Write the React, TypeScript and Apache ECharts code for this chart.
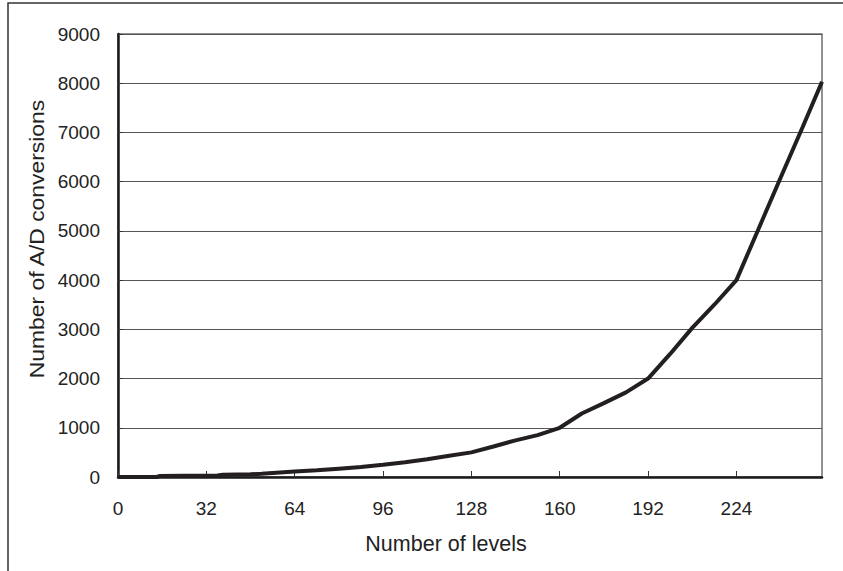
import React, { useEffect, useRef } from "react";
import * as echarts from "echarts";

const levels = [0, 8, 14, 15, 24, 36, 38, 48, 52, 64, 72, 80, 88, 96, 104, 112, 120, 128, 136, 144, 152, 160, 168, 176, 184, 192, 200, 208, 216, 224, 232, 240, 248, 255];
const conversions = [0, 0, 0, 20, 25, 30, 45, 55, 65, 110, 135, 170, 205, 250, 300, 360, 430, 500, 620, 745, 850, 1000, 1290, 1500, 1720, 2000, 2500, 3030, 3500, 4000, 5040, 6080, 7110, 8030];
const xTicks = [0, 32, 64, 96, 128, 160, 192, 224];
const xTitle = "Number of levels";
const yTitle = "Number of A/D conversions";

export default function App() {
  const ref = useRef<HTMLDivElement>(null);
  useEffect(() => {
    document.body.style.margin = "0";
    const chart = echarts.init(ref.current!, null, { renderer: "svg" });
    const font = "'Liberation Sans', Arial, sans-serif";
    chart.setOption({
      animation: false,
      backgroundColor: "#ffffff",
      grid: {
        left: 118,
        top: 34,
        width: 704,
        height: 443,
        show: true,
        borderColor: "#6e6e6e",
        borderWidth: 1.5,
        containLabel: false,
      },
      xAxis: {
        type: "value",
        min: 0,
        max: 255,
        interval: 32,
        axisLine: { show: true, lineStyle: { color: "#1a1a1a", width: 2.5 } },
        axisTick: { show: true, inside: true, length: 6, lineStyle: { color: "#333" } },
        splitLine: { show: false },
        axisLabel: {
          showMaxLabel: false,
          margin: 22,
          color: "#222",
          fontSize: 19,
          fontFamily: font,
          formatter: (v: number) => (xTicks.includes(v) ? String(v) : ""),
        },
      },
      yAxis: {
        type: "value",
        min: 0,
        max: 9000,
        interval: 1000,
        axisLine: { show: true, lineStyle: { color: "#1a1a1a", width: 2.5 } },
        axisTick: { show: true, inside: true, length: 5, lineStyle: { color: "#333" } },
        splitLine: { show: true, lineStyle: { color: "#555", width: 1 } },
        axisLabel: {
          margin: 18,
          color: "#222",
          fontSize: 19,
          fontFamily: font,
          formatter: (v: number) => String(v),
        },
      },
      graphic: [
        {
          type: "rect",
          shape: { x: 8, y: 3, width: 900, height: 700 },
          style: { fill: "none", stroke: "#333", lineWidth: 1.5 },
          silent: true,
          z: 100,
        },
        {
          type: "text",
          x: 446,
          y: 544,
          style: {
            text: xTitle,
            fill: "#222",
            fontSize: 21.5,
            fontFamily: font,
            textAlign: "center",
            textVerticalAlign: "middle",
          },
        },
        {
          type: "text",
          x: 37,
          y: 239,
          rotation: Math.PI / 2,
          scaleX: 1.09,
          style: {
            text: yTitle,
            fill: "#222",
            fontSize: 21,
            fontFamily: font,
            textAlign: "center",
            textVerticalAlign: "middle",
          },
        },
      ],
      series: [
        {
          type: "line",
          data: levels.map((l, i) => [l, conversions[i]]),
          showSymbol: false,
          lineStyle: { color: "#231f20", width: 4 },
          z: 5,
        },
      ],
    });
    return () => chart.dispose();
  }, []);
  return <div ref={ref} style={{ width: 843, height: 571 }} />;
}
